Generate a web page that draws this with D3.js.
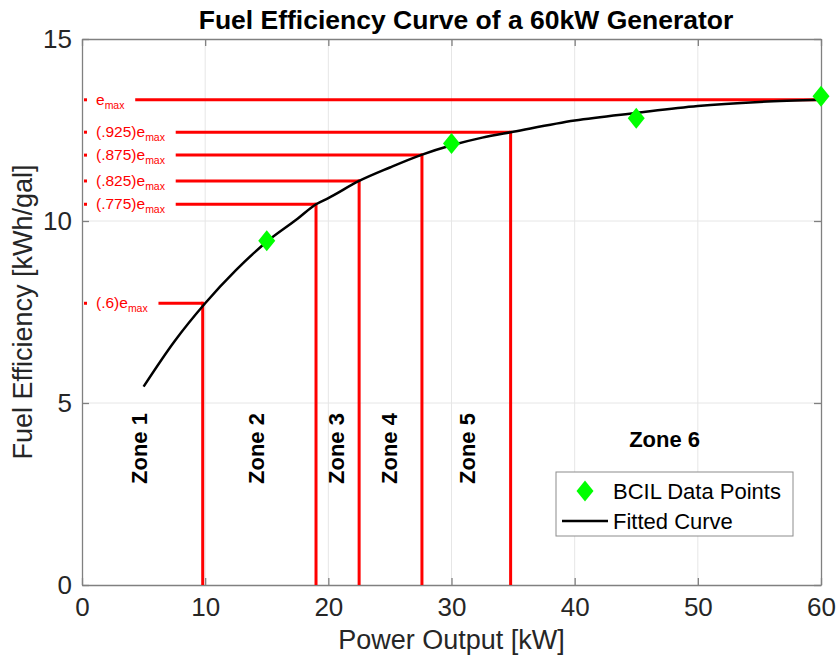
<!DOCTYPE html>
<html>
<head>
<meta charset="utf-8">
<script src="https://cdn.jsdelivr.net/npm/d3@7"></script>
<style>
  body { margin: 0; background: #fff; }
  text { font-family: "Liberation Sans", Arial, sans-serif; }
</style>
</head>
<body>
<svg id="chart" width="836" height="663"></svg>
<script>
// BCIL measured points
var dataPower = [15, 30, 45, 60];
var dataEff = [9.46, 12.13, 12.82, 13.43];

// fitted curve
var curvePower = [5, 7.5, 10, 12.5, 15, 17.5, 19, 20, 22.5, 25, 27.5, 30, 32.5, 35, 40, 45, 50, 55, 60];
var curveEff = [5.45, 6.69, 7.74, 8.65, 9.43, 10.06, 10.46, 10.63, 11.10, 11.47, 11.81, 12.08, 12.29, 12.45, 12.76, 12.97, 13.16, 13.27, 13.33];

// zone boundaries (fraction of e_max)
var levelLabels = ["(.6)e", "(.775)e", "(.825)e", "(.875)e", "(.925)e", "e"];
var levelPower = [9.8, 19.0, 22.5, 27.6, 34.8, 60];
var levelEff = [7.74, 10.46, 11.10, 11.81, 12.44, 13.33];

// zone names
var zoneNames = ["Zone 1", "Zone 2", "Zone 3", "Zone 4", "Zone 5", "Zone 6"];
var zonePower = [4.7, 14.2, 20.7, 25.0, 31.3, 47.3];
var zoneEff = [3.75, 3.75, 3.75, 3.75, 3.75, 4.0];

var xTicks = [0, 10, 20, 30, 40, 50, 60];
var yTicks = [0, 5, 10, 15];

var margin = {top: 39, right: 15, bottom: 78, left: 82};
var width = 836 - margin.left - margin.right,
    height = 663 - margin.top - margin.bottom;

var svg = d3.select("#chart");
var g = svg.append("g").attr("transform", "translate(" + margin.left + "," + margin.top + ")");

var x = d3.scaleLinear().domain([0, 60]).range([0, width]);
var y = d3.scaleLinear().domain([0, 15]).range([height, 0]);

// grid
g.append("g").selectAll("line").data(xTicks.slice(1, -1)).enter().append("line")
  .attr("x1", d => x(d)).attr("x2", d => x(d)).attr("y1", 0).attr("y2", height)
  .attr("stroke", "#e6e6e6").attr("stroke-width", 1);
g.append("g").selectAll("line").data(yTicks.slice(1, -1)).enter().append("line")
  .attr("y1", d => y(d)).attr("y2", d => y(d)).attr("x1", 0).attr("x2", width)
  .attr("stroke", "#e6e6e6").attr("stroke-width", 1);

// axes (box with inner ticks)
var axisColor = "#808080";
function styleAxis(sel) {
  sel.select(".domain").attr("stroke", axisColor).attr("stroke-width", 1.3);
  sel.selectAll(".tick line").attr("stroke", axisColor).attr("stroke-width", 1.3);
  sel.selectAll(".tick text").attr("fill", "#262626").style("font-size", "26px");
}
g.append("g").attr("transform", "translate(0," + height + ")")
  .call(d3.axisBottom(x).tickValues(xTicks).tickSize(-7).tickSizeOuter(0).tickPadding(13))
  .call(styleAxis);
g.append("g")
  .call(d3.axisTop(x).tickValues(xTicks).tickSize(-7).tickSizeOuter(0).tickFormat(""))
  .call(styleAxis);
g.append("g")
  .call(d3.axisLeft(y).tickValues(yTicks).tickSize(-7).tickSizeOuter(0).tickPadding(10))
  .call(styleAxis);
g.append("g").attr("transform", "translate(" + width + ",0)")
  .call(d3.axisRight(y).tickValues(yTicks).tickSize(-7).tickSizeOuter(0).tickFormat(""))
  .call(styleAxis);

// level labels on the left, red
var levels = levelLabels.map(function(l, i) {
  return {label: l, p: levelPower[i], e: levelEff[i]};
});

var lab = g.append("g").selectAll("g").data(levels).enter().append("g");
lab.append("rect")
  .attr("x", 2).attr("y", d => y(d.e) - 1.5).attr("width", 3).attr("height", 3)
  .attr("fill", "red");
var labText = lab.append("text")
  .attr("x", 14).attr("y", d => y(d.e) + 5)
  .attr("fill", "red").style("font-size", "15.5px")
  .text(d => d.label);
labText.append("tspan").attr("dy", 4).style("font-size", "10.5px").text("max");

// red guide lines
lab.each(function(d) {
  var bb = d3.select(this).select("text").node().getBBox();
  var sel = d3.select(this);
  sel.append("line")
    .attr("x1", bb.x + bb.width + 10).attr("x2", x(d.p))
    .attr("y1", y(d.e)).attr("y2", y(d.e))
    .attr("stroke", "red").attr("stroke-width", 3);
  if (d.p < 60) {
    sel.append("line")
      .attr("x1", x(d.p)).attr("x2", x(d.p))
      .attr("y1", y(d.e) - 1.5).attr("y2", height)
      .attr("stroke", "red").attr("stroke-width", 3);
  }
});

// fitted curve
var curve = curvePower.map((p, i) => [p, curveEff[i]]);
g.append("path")
  .datum(curve)
  .attr("d", d3.line().x(d => x(d[0])).y(d => y(d[1])).curve(d3.curveMonotoneX))
  .attr("fill", "none").attr("stroke", "#000").attr("stroke-width", 2.5);

// data points (diamonds)
var diamond = "M0,-10.5L8.5,0L0,10.5L-8.5,0Z";
g.append("g").selectAll("path").data(dataPower).enter().append("path")
  .attr("transform", (d, i) => "translate(" + x(d) + "," + y(dataEff[i]) + ")")
  .attr("d", diamond)
  .attr("fill", "#00ff00");

// zone labels
g.append("g").selectAll("text").data(zoneNames).enter().append("text")
  .attr("transform", function(d, i) {
    var t = "translate(" + x(zonePower[i]) + "," + y(zoneEff[i]) + ")";
    return i < 5 ? t + " rotate(-90)" : t;
  })
  .attr("text-anchor", "middle")
  .attr("dominant-baseline", "central")
  .style("font-size", "22px").style("font-weight", "bold")
  .text(d => d);

// legend
var leg = svg.append("g").attr("transform", "translate(556,472)");
leg.append("rect").attr("width", 237).attr("height", 64)
  .attr("fill", "#fff").attr("stroke", "#8c8c8c").attr("stroke-width", 1);
leg.append("path").attr("transform", "translate(29,19)").attr("d", diamond).attr("fill", "#00ff00");
leg.append("line").attr("x1", 6).attr("x2", 52).attr("y1", 49).attr("y2", 49)
  .attr("stroke", "#000").attr("stroke-width", 2.5);
leg.append("text").attr("x", 57).attr("y", 27).style("font-size", "22px").attr("fill", "#000").text("BCIL Data Points");
leg.append("text").attr("x", 57).attr("y", 57).style("font-size", "22px").attr("fill", "#000").text("Fitted Curve");

// title & axis labels
svg.append("text").attr("x", 466).attr("y", 29).attr("text-anchor", "middle")
  .style("font-size", "26.5px").style("font-weight", "bold")
  .text("Fuel Efficiency Curve of a 60kW Generator");
svg.append("text").attr("x", margin.left + width / 2).attr("y", 649).attr("text-anchor", "middle")
  .attr("fill", "#262626").style("font-size", "27px")
  .text("Power Output [kW]");
svg.append("text").attr("transform", "translate(32," + (margin.top + height / 2) + ") rotate(-90)")
  .attr("text-anchor", "middle")
  .attr("fill", "#262626").style("font-size", "27px")
  .text("Fuel Efficiency [kWh/gal]");
</script>
</body>
</html>
